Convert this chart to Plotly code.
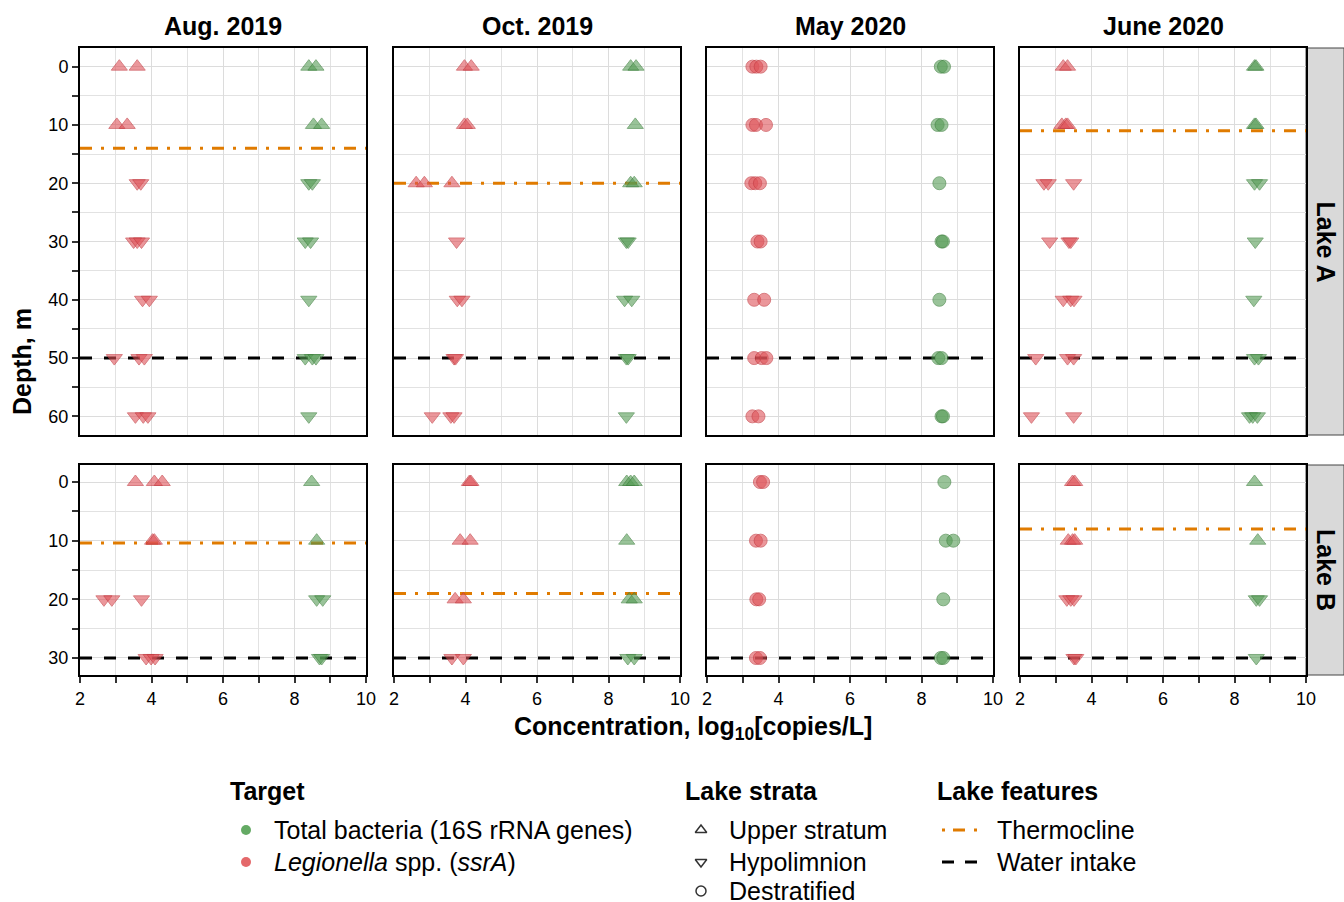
import plotly.graph_objects as go

W, H = 1344, 902

# ---------------- data ----------------
months = ["Aug. 2019", "Oct. 2019", "May 2020", "June 2020"]
lakes = ["Lake A", "Lake B"]
depths_A = [0, 10, 20, 30, 40, 50, 60]
depths_B = [0, 10, 20, 30]
thermocline_A = [14, 20, None, 11]
thermocline_B = [10.4, 19, None, 8]
water_intake_A = 50
water_intake_B = 30

# strata per depth: U = upper stratum, H = hypolimnion, D = destratified
strata_A_aug19 = ["U", "U", "H", "H", "H", "H", "H"]
strata_A_oct19 = ["U", "U", "U", "H", "H", "H", "H"]
strata_A_may20 = ["D", "D", "D", "D", "D", "D", "D"]
strata_A_jun20 = ["U", "U", "H", "H", "H", "H", "H"]
strata_B_aug19 = ["U", "U", "H", "H"]
strata_B_oct19 = ["U", "U", "U", "H"]
strata_B_may20 = ["D", "D", "D", "D"]
strata_B_jun20 = ["U", "U", "H", "H"]

# Total bacteria (16S rRNA genes), log10 copies/L, replicates per depth
bact_A_aug19 = [[8.4, 8.6], [8.53, 8.76], [8.4, 8.5], [8.3, 8.45], [8.4], [8.3, 8.5, 8.6], [8.4]]
bact_A_oct19 = [[8.62, 8.77], [8.75], [8.62, 8.72], [8.5, 8.55], [8.45, 8.65], [8.5, 8.55], [8.5]]
bact_A_may20 = [[8.54, 8.63], [8.45, 8.56], [8.5], [8.56, 8.6], [8.5], [8.47, 8.56], [8.56, 8.6]]
bact_A_jun20 = [[8.56, 8.6], [8.56, 8.6], [8.56, 8.7], [8.58], [8.54], [8.56, 8.67], [8.42, 8.51, 8.64]]
bact_B_aug19 = [[8.48], [8.62], [8.62, 8.79], [8.7, 8.76]]
bact_B_oct19 = [[8.51, 8.62, 8.72], [8.51], [8.58, 8.72], [8.54, 8.72]]
bact_B_may20 = [[8.64], [8.68, 8.89], [8.61], [8.54, 8.61]]
bact_B_jun20 = [[8.56], [8.65], [8.61, 8.7], [8.61]]

# Legionella spp. (ssrA), log10 copies/L
leg_A_aug19 = [[3.1, 3.6], [3.03, 3.32], [3.6, 3.7], [3.5, 3.6, 3.72], [3.75, 3.94], [2.96, 3.65, 3.8], [3.55, 3.77, 3.9]]
leg_A_oct19 = [[3.97, 4.16], [3.97, 4.05], [2.62, 2.85, 3.62], [3.75], [3.77, 3.9], [3.68, 3.72], [3.07, 3.59, 3.68]]
leg_A_may20 = [[3.27, 3.38, 3.5], [3.27, 3.37, 3.65], [3.24, 3.35, 3.48], [3.41, 3.5], [3.32, 3.6], [3.32, 3.53, 3.66], [3.27, 3.44]]
leg_A_jun20 = [[3.21, 3.33], [3.17, 3.28, 3.33], [2.67, 2.79, 3.5], [2.83, 3.37, 3.42], [3.21, 3.42, 3.51], [2.44, 3.33, 3.5], [2.32, 3.5]]
leg_B_aug19 = [[3.55, 4.08, 4.3], [4.03, 4.08], [2.67, 2.89, 3.72], [3.85, 3.99, 4.1]]
leg_B_oct19 = [[4.11, 4.15], [3.85, 4.13], [3.71, 3.94], [3.62, 3.94]]
leg_B_may20 = [[3.48, 3.57], [3.37, 3.5], [3.38, 3.46], [3.37, 3.48]]
leg_B_jun20 = [[3.47, 3.53], [3.35, 3.47, 3.53], [3.31, 3.42, 3.51], [3.51, 3.56]]

x_ticks = [2, 4, 6, 8, 10]
y_ticks_A = [0, 10, 20, 30, 40, 50, 60]
y_ticks_B = [0, 10, 20, 30]

# ---------------- styling ----------------
FONT = "Liberation Sans, Arial, Helvetica, sans-serif"
GREEN = "rgba(86,156,86,0.85)"
GREEN_LINE = "rgba(60,128,60,0.9)"
RED = "rgba(222,82,88,0.85)"
RED_LINE = "rgba(196,58,64,0.9)"
ORANGE = "#E07B00"
SYM = {"U": "triangle-up", "H": "triangle-down", "D": "circle"}
SIZE = {"U": 14, "H": 14, "D": 13}
TITLE_SIZE = 25
TICK_SIZE = 18

col_left = [80, 394, 707, 1020]
panel_w = 286
row_top = [48, 465]
row_bot = [435, 675]
y_ranges = [[63.2, -3.2], [32.9, -2.9]]

panels = [
    (0, 0, depths_A, strata_A_aug19, bact_A_aug19, leg_A_aug19),
    (0, 1, depths_A, strata_A_oct19, bact_A_oct19, leg_A_oct19),
    (0, 2, depths_A, strata_A_may20, bact_A_may20, leg_A_may20),
    (0, 3, depths_A, strata_A_jun20, bact_A_jun20, leg_A_jun20),
    (1, 0, depths_B, strata_B_aug19, bact_B_aug19, leg_B_aug19),
    (1, 1, depths_B, strata_B_oct19, bact_B_oct19, leg_B_oct19),
    (1, 2, depths_B, strata_B_may20, bact_B_may20, leg_B_may20),
    (1, 3, depths_B, strata_B_jun20, bact_B_jun20, leg_B_jun20),
]
thermoclines = [thermocline_A, thermocline_B]
intakes = [water_intake_A, water_intake_B]

fig = go.Figure()
layout = {}

for k, (r, c, depths, strata, bact, leg) in enumerate(panels):
    idx = k + 1
    xa = "x" if idx == 1 else f"x{idx}"
    ya = "y" if idx == 1 else f"y{idx}"
    xkey = "xaxis" if idx == 1 else f"xaxis{idx}"
    ykey = "yaxis" if idx == 1 else f"yaxis{idx}"

    # reference lines
    th = thermoclines[r][c]
    if th is not None:
        fig.add_trace(go.Scatter(x=[2, 10], y=[th, th], mode="lines", xaxis=xa, yaxis=ya,
                                 line=dict(color=ORANGE, width=3, dash="12px,9px,3px,9px"),
                                 showlegend=False, hoverinfo="skip"))
    fig.add_trace(go.Scatter(x=[2, 10], y=[intakes[r], intakes[r]], mode="lines", xaxis=xa, yaxis=ya,
                             line=dict(color="black", width=3, dash="12px,12px"),
                             showlegend=False, hoverinfo="skip"))

    for vals, fill, edge in [(bact, GREEN, GREEN_LINE), (leg, RED, RED_LINE)]:
        xs, ys, ss, zs = [], [], [], []
        for d, st, reps in zip(depths, strata, vals):
            for v in reps:
                xs.append(v)
                ys.append(d)
                ss.append(SYM[st])
                zs.append(SIZE[st])
        fig.add_trace(go.Scatter(x=xs, y=ys, mode="markers", xaxis=xa, yaxis=ya,
                                 marker=dict(symbol=ss, size=zs, color=fill,
                                             line=dict(color=edge, width=1)),
                                 showlegend=False))

    x0 = col_left[c] / W
    x1 = (col_left[c] + panel_w) / W
    y0 = 1 - row_bot[r] / H
    y1 = 1 - row_top[r] / H
    bottom = (r == 1)
    left = (c == 0)
    layout[xkey] = dict(
        domain=[x0, x1], anchor=ya, range=[2, 10],
        tickvals=x_ticks, showticklabels=bottom,
        ticks="outside" if bottom else "", ticklen=6, tickwidth=2, tickcolor="#333",
        minor=dict(dtick=1, tick0=0, showgrid=True, gridcolor="#e2e2e2", gridwidth=1,
                   ticks="outside" if bottom else "", ticklen=6, tickwidth=2, tickcolor="#333"),
        showgrid=True, gridcolor="#dcdcdc", gridwidth=1.2,
        showline=True, mirror=True, linecolor="black", linewidth=2,
        zeroline=False, tickfont=dict(size=TICK_SIZE, color="black", family=FONT),
    )
    layout[ykey] = dict(
        domain=[y0, y1], anchor=xa, range=y_ranges[r],
        tickvals=y_ticks_A if r == 0 else y_ticks_B, showticklabels=left,
        ticks="outside" if left else "", ticklen=6, tickwidth=2, tickcolor="#333",
        minor=dict(dtick=5, tick0=0, showgrid=True, gridcolor="#e2e2e2", gridwidth=1,
                   ticks="outside" if left else "", ticklen=6, tickwidth=2, tickcolor="#333"),
        showgrid=True, gridcolor="#dcdcdc", gridwidth=1.2,
        showline=True, mirror=True, linecolor="black", linewidth=2,
        zeroline=False, tickfont=dict(size=TICK_SIZE, color="black", family=FONT),
    )

# ---------------- legend (hidden pixel-space axis) ----------------
layout["xaxis9"] = dict(domain=[0, 1], range=[0, W], visible=False, anchor="y9", fixedrange=True)
layout["yaxis9"] = dict(domain=[0, 150 / H], range=[H, H - 150], visible=False, anchor="x9", fixedrange=True)

target_labels = ["Total bacteria (16S rRNA genes)", "<i>Legionella</i> spp. (<i>ssrA</i>)"]
target_colors = ["rgb(100,170,100)", "rgb(228,104,106)"]
strata_labels = ["Upper stratum", "Hypolimnion", "Destratified"]
strata_symbols = ["triangle-up-open", "triangle-down-open", "circle-open"]
feature_labels = ["Thermocline", "Water intake"]

row_y = [830, 862, 891]
fig.add_trace(go.Scatter(x=[246, 246], y=row_y[:2], mode="markers", xaxis="x9", yaxis="y9",
                         marker=dict(size=10, color=target_colors), showlegend=False, hoverinfo="skip"))
fig.add_trace(go.Scatter(x=[701, 701, 701], y=row_y, mode="markers", xaxis="x9", yaxis="y9",
                         marker=dict(size=10, symbol=strata_symbols, color="#333",
                                     line=dict(width=1.5, color="#333")),
                         showlegend=False, hoverinfo="skip"))
fig.add_trace(go.Scatter(x=[942, 977], y=[830, 830], mode="lines", xaxis="x9", yaxis="y9",
                         line=dict(color=ORANGE, width=3, dash="3px,8px,12px,9px"),
                         showlegend=False, hoverinfo="skip"))
fig.add_trace(go.Scatter(x=[942, 977], y=[862, 862], mode="lines", xaxis="x9", yaxis="y9",
                         line=dict(color="black", width=3, dash="12px,11px"),
                         showlegend=False, hoverinfo="skip"))

annotations = []


def ann(text, x, y, size=TITLE_SIZE, bold=False, xanchor="left", angle=0, yanchor="middle"):
    if xanchor == "left":
        x -= 3  # compensate annotation padding
    annotations.append(dict(
        text=f"<b>{text}</b>" if bold else text, x=x / W, y=1 - y / H,
        xref="paper", yref="paper", showarrow=False, xanchor=xanchor, yanchor=yanchor,
        textangle=angle, font=dict(size=size, color="black", family=FONT)))


# column titles
for c, m in enumerate(months):
    ann(m, col_left[c] + panel_w / 2, 26, bold=True, xanchor="center")

# strips
shapes = []
for r, lake in enumerate(lakes):
    shapes.append(dict(type="rect", xref="paper", yref="paper",
                       x0=1306 / W, x1=1.0, y0=1 - row_bot[r] / H, y1=1 - row_top[r] / H,
                       fillcolor="#d9d9d9", line=dict(color="#444", width=1), layer="below"))
    ann(lake, 1326, (row_top[r] + row_bot[r]) / 2, bold=True, xanchor="center", angle=90)

# axis titles
ann("Depth, m", 22, 362, bold=True, xanchor="center", angle=-90)
ann("Concentration, log<sub>10</sub>[copies/L]", 693, 728, bold=True, xanchor="center")

# legend text
ann("Target", 231, 791, bold=True)
for i, t in enumerate(target_labels):
    ann(t, 275, row_y[i])
ann("Lake strata", 686, 791, bold=True)
for i, t in enumerate(strata_labels):
    ann(t, 730, row_y[i])
ann("Lake features", 938, 791, bold=True)
for i, t in enumerate(feature_labels):
    ann(t, 998, row_y[i])

fig.update_layout(
    width=W, height=H,
    margin=dict(l=0, r=0, t=0, b=0, pad=0, autoexpand=False),
    paper_bgcolor="white", plot_bgcolor="white",
    font=dict(family=FONT, color="black"),
    annotations=annotations, shapes=shapes,
    showlegend=False,
    **layout,
)

fig.write_html(
    "out.html",
    config={"displayModeBar": False, "responsive": False},
    post_script="document.body.style.margin='0';document.body.style.overflow='hidden';"
                "document.documentElement.style.overflow='hidden';",
)
